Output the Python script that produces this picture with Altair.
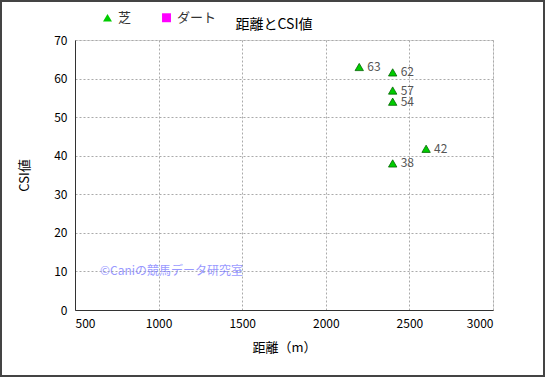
import altair as alt
import pandas as pd

distance = [2200, 2400, 2400, 2400, 2600, 2400]
csi = [63.0, 61.6, 56.9, 54.0, 41.8, 38.0]
labels = ["63", "62", "57", "54", "42", "38"]
surface = ["芝", "芝", "芝", "芝", "芝", "芝"]
categories = ["芝", "ダート"]
x_ticks = [500, 1000, 1500, 2000, 2500, 3000]
y_ticks = [0, 10, 20, 30, 40, 50, 60, 70]
chart_title = "距離とCSI値"
watermark_text = "©Caniの競馬データ研究室"

df = pd.DataFrame({"距離": distance, "CSI": csi, "label": labels, "surface": surface})

FONT = "Noto Sans CJK JP"
W, H = 418, 270

xs = alt.Scale(domain=[500, 3000], nice=False, zero=False)
ys = alt.Scale(domain=[0, 70], nice=False)

axis_common = dict(grid=True, gridDash=[2, 2], gridColor="#aaaaaa", domainColor="#333333",
                   ticks=False, labelOverlap=False, format="d", labelFont=FONT, titleFont=FONT,
                   labelFontSize=12, titleFontSize=13, labelColor="#000000",
                   titleColor="#000000", titleFontWeight="normal", labelPadding=8)

x_enc = alt.X("距離:Q", scale=xs, title="距離（m）",
              axis=alt.Axis(values=x_ticks, tickCount=6, titlePadding=12, **axis_common))
y_enc = alt.Y("CSI:Q", scale=ys, title="CSI値",
              axis=alt.Axis(values=y_ticks, tickCount=8, titlePadding=22, **axis_common))

base = alt.Chart(df)

points = base.mark_point(filled=True, size=70, strokeWidth=0.8, stroke="#006400", opacity=1).encode(
    x=x_enc,
    y=y_enc,
    shape=alt.Shape("surface:N", scale=alt.Scale(domain=categories, range=["triangle-up", "square"]),
                    legend=alt.Legend(title=None, orient="none", legendX=26, legendY=-29,
                                      direction="horizontal", columnPadding=28, symbolSize=80,
                                      labelFontSize=13, labelColor="#333333", labelFont=FONT,
                                      symbolStrokeWidth=0)),
    fill=alt.Fill("surface:N", scale=alt.Scale(domain=categories, range=["#00cc00", "#ff00ff"]),
                  legend=None),
)

text = base.mark_text(align="left", dx=8, fontSize=12, color="#555555", font=FONT).encode(
    x=x_enc, y=y_enc, text="label:N"
)

title_mark = alt.Chart(pd.DataFrame({"t": [chart_title]})).mark_text(
    align="center", baseline="middle", fontSize=14, color="#000000", font=FONT
).encode(x=alt.value(199), y=alt.value(-15), text="t:N")

watermark = alt.Chart(pd.DataFrame({"t": [watermark_text]})).mark_text(
    align="left", baseline="middle", fontSize=12, color="#7777ff", opacity=0.75, font=FONT
).encode(x=alt.value(25), y=alt.value(231), text="t:N")

frame = alt.Chart(pd.DataFrame({"a": [0]})).mark_rect(
    fill=None, stroke="#444444", strokeWidth=2, clip=False
).encode(x=alt.value(-74), x2=alt.value(469), y=alt.value(-39), y2=alt.value(336))

chart = alt.layer(points, text, title_mark, watermark, frame).properties(
    width=W, height=H,
    autosize=alt.AutoSizeParams(type="none"),
    padding={"left": 75, "top": 40, "right": 52, "bottom": 67},
).configure_view(stroke="#999999").configure(background="white")

chart.save("out.html", embed_options={"renderer": "svg", "actions": False})
